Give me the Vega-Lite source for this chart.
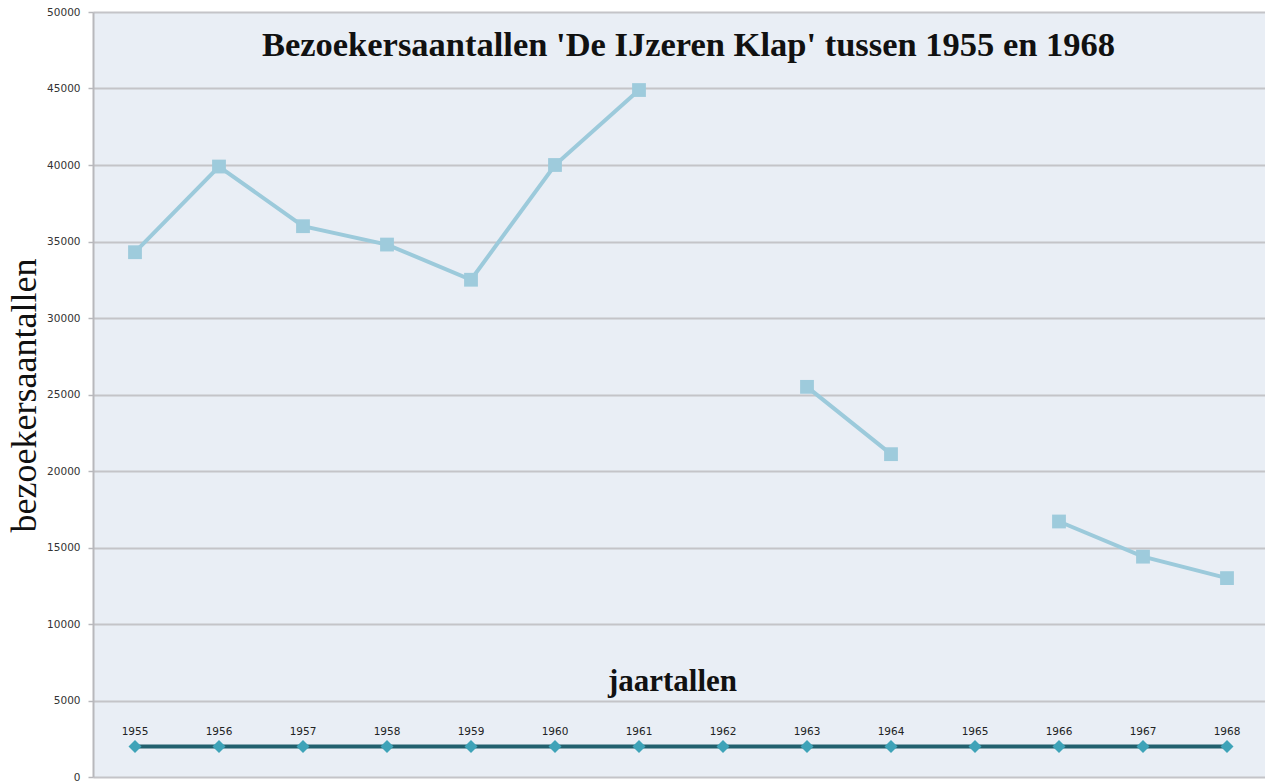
{
  "$schema": "https://vega.github.io/schema/vega-lite/v6.json",
  "autosize": {"type": "none"},
  "width": 1176,
  "height": 765,
  "padding": {"left": 93, "top": 12, "right": 0, "bottom": 5},
  "background": "#ffffff",
  "config": {
    "view": {"fill": "#e9eef5", "stroke": null}
  },
  "data": {
    "values": [
      {"jaar": "1955", "bezoekers": 34300, "basis": 2000},
      {"jaar": "1956", "bezoekers": 39900, "basis": 2000},
      {"jaar": "1957", "bezoekers": 36000, "basis": 2000},
      {"jaar": "1958", "bezoekers": 34800, "basis": 2000},
      {"jaar": "1959", "bezoekers": 32500, "basis": 2000},
      {"jaar": "1960", "bezoekers": 40000, "basis": 2000},
      {"jaar": "1961", "bezoekers": 44900, "basis": 2000},
      {"jaar": "1962", "bezoekers": null, "basis": 2000},
      {"jaar": "1963", "bezoekers": 25500, "basis": 2000},
      {"jaar": "1964", "bezoekers": 21100, "basis": 2000},
      {"jaar": "1965", "bezoekers": null, "basis": 2000},
      {"jaar": "1966", "bezoekers": 16700, "basis": 2000},
      {"jaar": "1967", "bezoekers": 14400, "basis": 2000},
      {"jaar": "1968", "bezoekers": 13000, "basis": 2000}
    ]
  },
  "layer": [
    {
      "mark": {"type": "line", "color": "#9ccadb", "strokeWidth": 4, "invalid": "break-paths-show-domains"},
      "encoding": {
        "x": {
          "field": "jaar",
          "type": "ordinal",
          "scale": {"type": "point", "padding": 0.5},
          "axis": {
            "orient": "bottom",
            "title": "jaartallen",
            "labels": false,
            "ticks": false,
            "domain": false,
            "grid": false,
            "titleFont": "Liberation Serif",
            "titleFontSize": 31,
            "titleFontWeight": "bold",
            "titleColor": "#111111",
            "titleX": 579,
            "titleY": -96,
            "titleBaseline": "middle",
            "titleAlign": "center"
          }
        },
        "y": {
          "field": "bezoekers",
          "type": "quantitative",
          "scale": {"domain": [0, 50000]},
          "axis": {
            "title": "bezoekersaantallen",
            "values": [0, 5000, 10000, 15000, 20000, 25000, 30000, 35000, 40000, 45000, 50000],
            "format": "d",
            "grid": true,
            "gridColor": "#c4c4c8",
            "gridWidth": 2,
            "domainColor": "#b8b8bc",
            "domainWidth": 2,
            "tickColor": "#b8b8bc",
            "tickSize": 5,
            "tickWidth": 1.5,
            "labelFont": "DejaVu Sans",
            "labelFontSize": 10.5,
            "labelColor": "#333333",
            "labelPadding": 8,
            "titleFont": "Liberation Serif",
            "titleFontSize": 36,
            "titleFontWeight": "normal",
            "titleColor": "#111111",
            "titleX": -69,
            "titleY": 383,
            "titleAngle": -90,
            "titleAlign": "center",
            "titleBaseline": "middle"
          }
        }
      }
    },
    {
      "mark": {"type": "point", "shape": "square", "filled": true, "size": 190, "color": "#9ecbdc", "opacity": 1},
      "encoding": {
        "x": {"field": "jaar", "type": "ordinal", "axis": null},
        "y": {"field": "bezoekers", "type": "quantitative"}
      }
    },
    {
      "mark": {"type": "line", "color": "#22606e", "strokeWidth": 4},
      "encoding": {
        "x": {"field": "jaar", "type": "ordinal", "axis": null},
        "y": {"field": "basis", "type": "quantitative"}
      }
    },
    {
      "mark": {"type": "point", "shape": "diamond", "filled": true, "size": 170, "color": "#3fa3b8", "opacity": 1},
      "encoding": {
        "x": {"field": "jaar", "type": "ordinal", "axis": null},
        "y": {"field": "basis", "type": "quantitative"}
      }
    },
    {
      "mark": {"type": "text", "dy": -14, "font": "DejaVu Sans", "fontSize": 10.5, "color": "#222222"},
      "encoding": {
        "x": {
          "field": "jaar",
          "type": "ordinal",
          "axis": {
            "orient": "top",
            "title": "Bezoekersaantallen 'De IJzeren Klap' tussen 1955 en 1968",
            "labels": false,
            "ticks": false,
            "domain": false,
            "grid": false,
            "titleFont": "Liberation Serif",
            "titleFontSize": 34.5,
            "titleFontWeight": "bold",
            "titleColor": "#111111",
            "titleX": 595,
            "titleY": 43,
            "titleBaseline": "alphabetic",
            "titleAlign": "center"
          }
        },
        "y": {"field": "basis", "type": "quantitative"},
        "text": {"field": "jaar", "type": "nominal"}
      }
    }
  ]
}
